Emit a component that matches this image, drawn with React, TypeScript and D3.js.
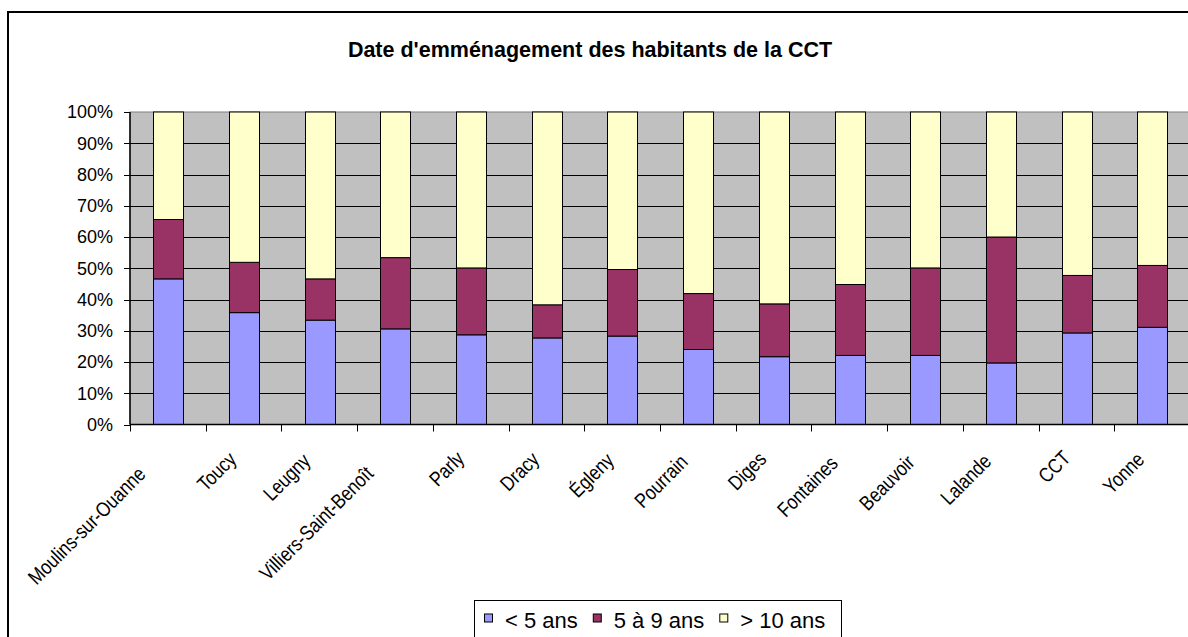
import React from "react";
import * as d3 from "d3";

const categories = [
  "Moulins-sur-Ouanne", "Toucy", "Leugny", "Villiers-Saint-Benoît", "Parly", "Dracy",
  "Égleny", "Pourrain", "Diges", "Fontaines", "Beauvoir", "Lalande", "CCT", "Yonne",
];
const seriesNames = ["< 5 ans", "5 à 9 ans", "> 10 ans"];
const lessThan5 = [46.6, 35.8, 33.4, 30.6, 28.7, 27.7, 28.3, 24.0, 21.7, 22.1, 22.1, 19.7, 29.3, 31.1];
const from5to9 = [19.0, 16.1, 13.2, 22.8, 21.4, 10.6, 21.3, 17.9, 16.9, 22.7, 28.0, 40.3, 18.4, 19.8];
const over10 = [34.4, 48.1, 53.4, 46.6, 49.9, 61.7, 50.4, 58.1, 61.4, 55.2, 49.9, 40.0, 52.3, 49.1];
const yTicks = [0, 0.1, 0.2, 0.3, 0.4, 0.5, 0.6, 0.7, 0.8, 0.9, 1];
const colors = ["#9999FF", "#993366", "#FFFFCC"];

const FONT = "'Liberation Sans', Arial, Helvetica, sans-serif";

let ctx: CanvasRenderingContext2D | null = null;
function measure(text: string, font: string) {
  if (!ctx) ctx = document.createElement("canvas").getContext("2d");
  if (!ctx) return text.length * 10;
  ctx.font = font;
  return ctx.measureText(text).width;
}

export default function App() {
  const W = 1188, H = 637;
  const left = 130, right = 1190, top = 112, bottom = 424.5;

  const x = d3.scaleBand<string>().domain(categories).range([left, right]).padding(0);
  const y = d3.scaleLinear().domain([0, 1]).range([bottom, top]);

  const rows = categories.map((c, i) => {
    const tot = lessThan5[i] + from5to9[i] + over10[i];
    return { cat: c, a: lessThan5[i] / tot, b: from5to9[i] / tot, c: over10[i] / tot };
  });
  const stack = d3.stack<any>().keys(["a", "b", "c"]);
  const layers = stack(rows);
  const bw = x.bandwidth() * 0.39;

  const labelFontSize = 20.5;
  const labelFont = `${labelFontSize}px ${FONT}`;
  const squeeze = 0.84;

  // legend layout
  const legendFont = 22;
  const legY = 620.5;
  let lx = 484;
  const legItems = seriesNames.map((n, i) => {
    const item = { name: n, x: lx, color: colors[i] };
    lx += 21 + measure(n, `${legendFont}px ${FONT}`) + 15;
    return item;
  });

  return (
    <svg width={W} height={H} style={{ position: "absolute", left: 0, top: 0, background: "#fff" }}
      fontFamily={FONT}>
      <rect x={0} y={0} width={W} height={H} fill="#fff" />
      <rect x={8} y={12} width={1230} height={660} fill="#fff" stroke="#000" strokeWidth={2} />
      <text x={590} y={57} textAnchor="middle" fontWeight="bold" fontSize={21.5} fill="#000">
        Date d'emménagement des habitants de la CCT
      </text>

      {/* plot area */}
      <rect x={left} y={top} width={right - left} height={bottom - top} fill="#C0C0C0" stroke="#808080" strokeWidth={1} />
      {yTicks.filter((t) => t > 0 && t < 1).map((t) => (
        <line key={t} x1={left} x2={right} y1={Math.round(y(t)) + 0.5} y2={Math.round(y(t)) + 0.5} stroke="#000" strokeWidth={1} />
      ))}

      {/* bars */}
      {layers.map((layer, li) => (
        <g key={li}>
          {layer.map((d, i) => {
            const cx = (x(categories[i]) as number) + x.bandwidth() / 2;
            return (
              <rect key={i} x={Math.round(cx - bw / 2) + 0.5} width={Math.round(bw)}
                y={y(d[1])} height={y(d[0]) - y(d[1])}
                fill={colors[li]} stroke="#000" strokeWidth={1} />
            );
          })}
        </g>
      ))}

      {/* axes */}
      <line x1={left} x2={left} y1={top} y2={bottom} stroke="#000" strokeWidth={1.5} />
      <line x1={left} x2={right} y1={bottom} y2={bottom} stroke="#000" strokeWidth={1.5} />
      {yTicks.map((t) => (
        <g key={t}>
          <line x1={left - 6} x2={left} y1={Math.round(y(t)) + 0.5} y2={Math.round(y(t)) + 0.5} stroke="#000" strokeWidth={1} />
          <text x={113} y={y(t)} dy="0.35em" textAnchor="end" fontSize={18} fill="#000">
            {d3.format(".0%")(t)}
          </text>
        </g>
      ))}
      {d3.range(categories.length + 1).map((i) => {
        const px = Math.round(left + i * x.step()) + 0.5;
        return <line key={i} x1={px} x2={px} y1={bottom} y2={bottom + 7} stroke="#000" strokeWidth={1} />;
      })}
      {categories.map((c) => {
        const cx = (x(c) as number) + x.bandwidth() / 2;
        const wl = measure(c, labelFont);
        return (
          <text key={c} fontSize={labelFontSize} textAnchor="start" fill="#000"
            transform={`translate(${cx},${bottom + 30}) rotate(-45) translate(${-wl},0) scale(${squeeze},1)`}>
            {c}
          </text>
        );
      })}

      {/* legend */}
      <rect x={474.5} y={600.5} width={367} height={60} fill="#fff" stroke="#000" strokeWidth={1} />
      {legItems.map((it) => (
        <g key={it.name}>
          <rect x={it.x + 0.5} y={legY - 6.5} width={8} height={8} fill={it.color} stroke="#000" strokeWidth={1} />
          <text x={it.x + 21} y={legY} dy="0.35em" fontSize={legendFont} fill="#000">{it.name}</text>
        </g>
      ))}
    </svg>
  );
}
